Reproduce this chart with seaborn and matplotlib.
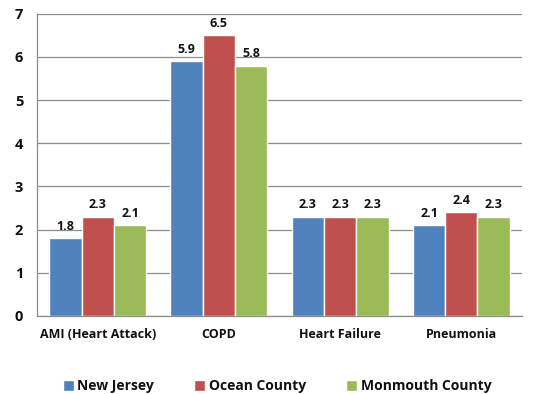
import numpy as np
import pandas as pd
import matplotlib.pyplot as plt
import seaborn as sns
from matplotlib.patches import Patch

categories = ['AMI (Heart Attack)', 'COPD', 'Heart Failure', 'Pneumonia']
new_jersey = [1.8, 5.9, 2.3, 2.1]
ocean_county = [2.3, 6.5, 2.3, 2.4]
monmouth_county = [2.1, 5.8, 2.3, 2.3]
series_names = ['New Jersey', 'Ocean County', 'Monmouth County']
colors = ['#4F81BD', '#C0504D', '#9BBB59']

rows = []
for name, vals in zip(series_names, [new_jersey, ocean_county, monmouth_county]):
    for cat, v in zip(categories, vals):
        rows.append({'Condition': cat, 'Area': name, 'Value': v})
df = pd.DataFrame(rows)

sns.set_style('white')
plt.rcParams['font.family'] = ['Open Sans', 'DejaVu Sans']
plt.rcParams['font.weight'] = 'bold'

fig = plt.figure(figsize=(5.54, 3.94), dpi=100)
ax = fig.add_axes([0.067, 0.198, 0.875, 0.767])

sns.barplot(data=df, x='Condition', y='Value', hue='Area', palette=colors,
            order=categories, hue_order=series_names, width=0.8,
            saturation=1, ax=ax, legend=False, errorbar=None)

for cont in ax.containers:
    ax.bar_label(cont, fmt='%.1f', padding=4, fontsize=9, fontweight='bold', color='#111111')

ax.set_ylim(0, 7)
ax.set_xlim(-0.5, 3.5)
ax.set_yticks(range(0, 8))
ax.yaxis.grid(True, color='#8c8c8c', linewidth=0.9)
ax.set_axisbelow(True)
ax.set_xlabel('')
ax.set_ylabel('')
for s in ['top', 'right']:
    ax.spines[s].set_visible(False)
for s in ['left', 'bottom']:
    ax.spines[s].set_color('#8c8c8c')
    ax.spines[s].set_linewidth(0.9)

ax.tick_params(axis='y', length=4, color='#8c8c8c', labelsize=10.5, pad=6, labelcolor='#111111')
ax.tick_params(axis='x', length=0, labelsize=9, pad=9, labelcolor='#111111')
ax.set_xticks(np.arange(-0.5, 4.0, 1.0), minor=True)
ax.tick_params(axis='x', which='minor', length=4, color='#8c8c8c')
for lab in ax.get_xticklabels() + ax.get_yticklabels():
    lab.set_fontweight('bold')

handles = [Patch(facecolor=c, label=n) for c, n in zip(colors, series_names)]
fig.legend(handles=handles, loc='center', bbox_to_anchor=(0.5, 0.02), ncol=3,
           frameon=False, handlelength=0.8, handleheight=0.8,
           handletextpad=0.25, columnspacing=2.9,
           prop={'weight': 'bold', 'size': 10}, labelcolor='#111111')

fig.savefig('out.png', dpi=100)
